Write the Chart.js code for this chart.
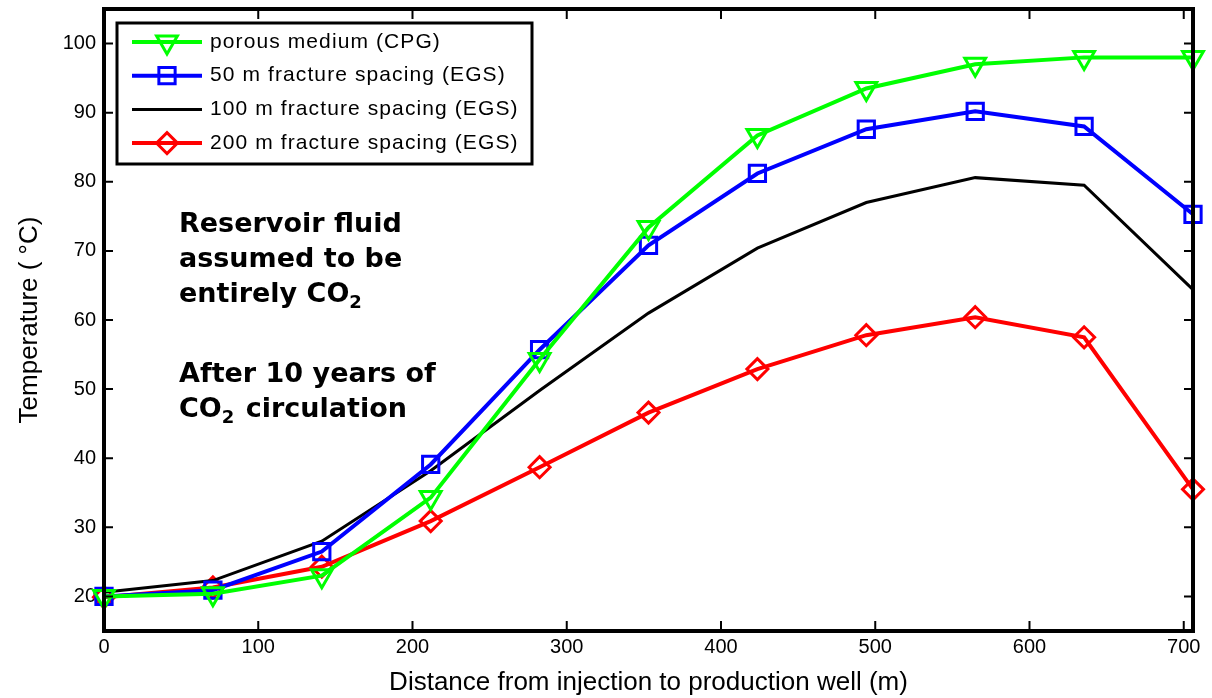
<!DOCTYPE html>
<html>
<head>
<meta charset="utf-8">
<script src="https://cdn.jsdelivr.net/npm/chart.js@4"></script>
<style>
  html, body { margin: 0; padding: 0; background: #fff; }
  #wrap { width: 1212px; height: 698px; }
</style>
</head>
<body>
<div id="wrap"><canvas id="chart"></canvas></div>
<script>
// data
const distance = [0, 70.6, 141.2, 211.8, 282.4, 353, 423.6, 494.2, 564.8, 635.4, 706];
const porous = [20, 20.4, 23, 34.3, 54.3, 73.4, 86.7, 93.5, 97, 98, 98];
const egs50 = [20, 20.9, 26.5, 39.1, 55.7, 70.8, 81.2, 87.6, 90.2, 88, 75.3];
const egs100 = [20.6, 22.3, 28, 38.2, 49.8, 61, 70.4, 77, 80.6, 79.5, 64.4];
const egs200 = [19.9, 21.3, 24.3, 30.9, 38.7, 46.6, 52.9, 57.8, 60.4, 57.5, 35.5];
const xTicks = [0, 100, 200, 300, 400, 500, 600, 700];
const yTicks = [20, 30, 40, 50, 60, 70, 80, 90, 100];

const toXY = (ys) => ys.map((y, i) => ({ x: distance[i], y: y }));

const FONT = '"Liberation Sans", Arial, sans-serif';

// box round the plot with inward ticks, like the matlab axes
const boxPlugin = {
  id: 'box',
  afterDatasetsDraw(chart) {
    const { ctx, chartArea: a, scales } = chart;
    ctx.save();
    ctx.strokeStyle = '#000';
    ctx.lineWidth = 2;
    ctx.beginPath();
    yTicks.forEach(v => {
      const p = scales.y.getPixelForValue(v);
      ctx.moveTo(a.left, p); ctx.lineTo(a.left + 9, p);
      ctx.moveTo(a.right, p); ctx.lineTo(a.right - 9, p);
    });
    xTicks.forEach(v => {
      const p = scales.x.getPixelForValue(v);
      ctx.moveTo(p, a.bottom); ctx.lineTo(p, a.bottom - 10);
      ctx.moveTo(p, a.top); ctx.lineTo(p, a.top + 10);
    });
    ctx.stroke();
    ctx.lineWidth = 4;
    ctx.strokeRect(a.left, a.top, a.right - a.left, a.bottom - a.top);
    ctx.restore();
  }
};

function drawMarker(ctx, ds, x, y) {
  if (ds.pointRadius === 0) return;
  Chart.helpers.drawPoint(ctx, {
    pointStyle: ds.pointStyle,
    rotation: ds.pointRotation || 0,
    radius: ds.pointRadius,
    borderWidth: ds.pointBorderWidth
  }, x, y);
}

// legend box inside the plot
const legendPlugin = {
  id: 'boxLegend',
  afterDraw(chart) {
    const { ctx } = chart;
    const bx = 117, by = 23, bw = 415, bh = 141;
    ctx.save();
    ctx.fillStyle = '#fff';
    ctx.fillRect(bx, by, bw, bh);
    ctx.strokeStyle = '#000';
    ctx.lineWidth = 3;
    ctx.strokeRect(bx, by, bw, bh);
    chart.data.datasets.forEach((ds, i) => {
      const y = 42 + i * 33.7;
      ctx.strokeStyle = ds.borderColor;
      ctx.fillStyle = 'rgba(0,0,0,0)';
      ctx.lineWidth = ds.borderWidth;
      ctx.beginPath();
      ctx.moveTo(132, y); ctx.lineTo(202, y);
      ctx.stroke();
      ctx.lineWidth = ds.pointBorderWidth;
      drawMarker(ctx, ds, 167, y);
      ctx.fillStyle = '#000';
      ctx.font = '21px ' + FONT;
      ctx.letterSpacing = '1.1px';
      ctx.textAlign = 'left';
      ctx.textBaseline = 'middle';
      ctx.fillText(ds.label, 210, y);
    });
    ctx.restore();
  }
};

// bold note with subscript 2
const notePlugin = {
  id: 'note',
  afterDraw(chart) {
    const { ctx } = chart;
    const lines = [
      [['Reservoir fluid', false]],
      [['assumed to be', false]],
      [['entirely CO', false], ['2', true]],
      [['After 10 years of', false]],
      [['CO', false], ['2', true], [' circulation', false]]
    ];
    const baselines = [232, 267, 302, 382, 417];
    const big = 'bold 27px "DejaVu Sans", Verdana, sans-serif';
    const small = 'bold 18px "DejaVu Sans", Verdana, sans-serif';
    ctx.save();
    ctx.fillStyle = '#000';
    ctx.textBaseline = 'alphabetic';
    ctx.textAlign = 'left';
    lines.forEach((parts, i) => {
      let x = 179;
      parts.forEach(([t, sub]) => {
        ctx.font = sub ? small : big;
        ctx.fillText(t, x, baselines[i] + (sub ? 6 : 0));
        x += ctx.measureText(t).width + (sub ? 2 : 0);
      });
    });
    ctx.restore();
  }
};

const common = { pointBackgroundColor: 'rgba(0,0,0,0)', fill: false, tension: 0, clip: false };

new Chart(document.getElementById('chart').getContext('2d'), {
  type: 'line',
  data: {
    datasets: [
      {
        ...common,
        label: 'porous medium (CPG)',
        data: toXY(porous),
        borderColor: '#00ff00',
        pointBorderColor: '#00ff00',
        borderWidth: 4,
        pointStyle: 'triangle',
        pointRotation: 180,
        pointRadius: 12,
        pointBorderWidth: 3
      },
      {
        ...common,
        label: '50 m fracture spacing (EGS)',
        data: toXY(egs50),
        borderColor: '#0000ff',
        pointBorderColor: '#0000ff',
        borderWidth: 4,
        pointStyle: 'rect',
        pointRadius: 11.5,
        pointBorderWidth: 3
      },
      {
        ...common,
        label: '100 m fracture spacing (EGS)',
        data: toXY(egs100),
        borderColor: '#000000',
        pointBorderColor: '#000000',
        borderWidth: 3,
        pointStyle: 'circle',
        pointRadius: 0,
        pointBorderWidth: 0
      },
      {
        ...common,
        label: '200 m fracture spacing (EGS)',
        data: toXY(egs200),
        borderColor: '#ff0000',
        pointBorderColor: '#ff0000',
        borderWidth: 4,
        pointStyle: 'rectRot',
        pointRadius: 10.5,
        pointBorderWidth: 3
      }
    ]
  },
  options: {
    responsive: true,
    maintainAspectRatio: false,
    animation: false,
    layout: { autoPadding: false, padding: { top: 9, right: 19, left: 0, bottom: 0 } },
    plugins: {
      legend: { display: false },
      tooltip: { enabled: false }
    },
    scales: {
      x: {
        type: 'linear',
        min: 0,
        max: 706,
        grid: { display: false, drawTicks: false },
        border: { display: false },
        afterBuildTicks: (s) => { s.ticks = xTicks.map(v => ({ value: v })); },
        afterFit: (s) => { s.height = 67; s.paddingLeft = 0; s.paddingRight = 0; },
        ticks: {
          color: '#000',
          padding: 4,
          maxRotation: 0,
          autoSkip: false,
          font: { family: FONT, size: 20 }
        },
        title: {
          display: true,
          text: 'Distance from injection to production well (m)',
          color: '#000',
          padding: { top: 0, bottom: 0 },
          font: { family: FONT, size: 26 }
        }
      },
      y: {
        min: 15,
        max: 105,
        grid: { display: false, drawTicks: false },
        border: { display: false },
        afterBuildTicks: (s) => { s.ticks = yTicks.map(v => ({ value: v })); },
        afterFit: (s) => { s.width = 104; s.paddingTop = 0; s.paddingBottom = 0; },
        ticks: {
          color: '#000',
          padding: 8,
          autoSkip: false,
          font: { family: FONT, size: 20 }
        },
        title: {
          display: true,
          text: 'Temperature ( \u00b0C)',
          color: '#000',
          padding: { top: 14, bottom: 0 },
          font: { family: FONT, size: 26 }
        }
      }
    }
  },
  plugins: [boxPlugin, legendPlugin, notePlugin]
});
</script>
</body>
</html>
